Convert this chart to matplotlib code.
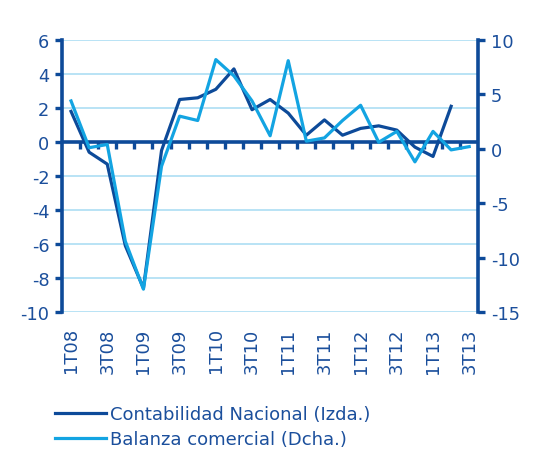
import numpy as np
import matplotlib
matplotlib.use("Agg")
import matplotlib.pyplot as plt

# quarters 1T08 .. 3T13
quarters = ['1T08', '2T08', '3T08', '4T08', '1T09', '2T09', '3T09', '4T09',
            '1T10', '2T10', '3T10', '4T10', '1T11', '2T11', '3T11', '4T11',
            '1T12', '2T12', '3T12', '4T12', '1T13', '2T13', '3T13']

# Contabilidad Nacional (left axis), ends at 2T13
contab = [1.8, -0.6, -1.3, -6.1, -8.6, -0.5, 2.5, 2.6, 3.1, 4.3, 1.9, 2.5,
          1.7, 0.4, 1.3, 0.4, 0.8, 0.95, 0.7, -0.3, -0.85, 2.1]

# Balanza comercial (right axis)
balanza = [4.4, 0.1, 0.4, -8.5, -12.9, -1.6, 3.0, 2.6, 8.2, 6.7, 4.4, 1.2,
           8.1, 0.7, 1.0, 2.6, 4.0, 0.6, 1.6, -1.2, 1.6, -0.1, 0.2]

dark = '#0d4a99'
light = '#13a4e2'
grid_c = '#b3e0f5'
txt = '#1b4f9c'

plt.rcParams['font.family'] = ['DejaVu Sans']
plt.rcParams['axes.unicode_minus'] = False

fig = plt.figure(figsize=(5.33, 4.52), dpi=100)
ax = fig.add_axes([0.1163, 0.3075, 0.781, 0.6018])
ax2 = ax.twinx()

x = np.arange(len(quarters))
ax.axhline(0, color=dark, lw=2.6, zorder=2.5)
l1, = ax.plot(x[:len(contab)], contab, color=dark, lw=2.3, zorder=3,
              label='Contabilidad Nacional (Izda.)')
l2, = ax2.plot(x, balanza, color=light, lw=2.3, zorder=4,
               label='Balanza comercial (Dcha.)')

ax.set_xlim(-0.5, len(quarters) - 0.5)
ax.set_ylim(-10, 6)
ax.set_yticks(np.arange(-10, 7, 2))
ax2.set_ylim(-15, 10)
ax2.set_yticks(np.arange(-15, 11, 5))

ax.yaxis.grid(True, color=grid_c, lw=1.3)
ax.set_axisbelow(True)

for a in (ax, ax2):
    for s in ('top', 'bottom'):
        a.spines[s].set_visible(False)
ax.spines['right'].set_visible(False)
ax2.spines['left'].set_visible(False)
ax.spines['left'].set_color(dark)
ax.spines['left'].set_linewidth(2.6)
ax2.spines['right'].set_color(dark)
ax2.spines['right'].set_linewidth(2.6)

ax.tick_params(axis='y', colors=dark, labelcolor=txt, labelsize=12.8,
               length=5, width=2.4, pad=4)
ax2.tick_params(axis='y', colors=dark, labelcolor=txt, labelsize=12.8,
                length=5, width=2.4, pad=4)

# category labels at the bottom
ax.set_xticks(x[::2])
ax.set_xticklabels(quarters[::2], rotation=90, color=txt, fontsize=13)
ax.tick_params(axis='x', length=0, pad=11)

# boundary ticks under the zero line
zero_axis = ax.secondary_xaxis(10 / 16)
for s in zero_axis.spines.values():
    s.set_visible(False)
zero_axis.set_xticks(np.arange(0.5, len(quarters) - 1, 1))
zero_axis.xaxis.set_ticks_position('bottom')
zero_axis.set_xticklabels([])
zero_axis.tick_params(axis='x', direction='out', length=5, width=2.4,
                      colors=dark, labelbottom=False, labeltop=False)

fig.legend(handles=[l1, l2], loc='upper left', bbox_to_anchor=(0.09, 0.118),
           frameon=False, fontsize=13, labelcolor=txt, handlelength=2.8,
           handletextpad=0.25, labelspacing=0.4, borderaxespad=0)

fig.savefig('out.png', dpi=100)
